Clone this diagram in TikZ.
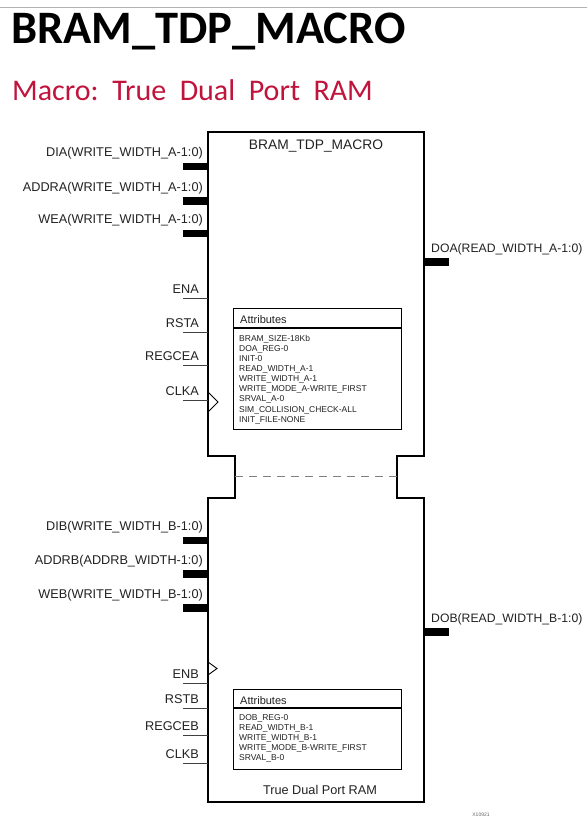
\documentclass[tikz,border=0pt]{standalone}
\usepackage{fontspec}
\setmainfont{Liberation Sans}
\newfontfamily\calibrifont{Carlito}
\usetikzlibrary{positioning,calc}
\definecolor{subtitle}{HTML}{C0143C}
\definecolor{ink}{HTML}{222222}

\begin{document}
\begin{tikzpicture}[x=1pt,y=-1pt,
  lbl/.style={font=\fontsize{12.7}{14}\selectfont,text=ink,inner sep=0},
  outlbl/.style={lbl,font=\fontsize{12.2}{14}\selectfont},
  bus/.style={fill=black,minimum width=25pt,minimum height=7.5pt,inner sep=0,anchor=east},
  pin/.style={draw=black!75,line width=0.7pt},
  clk/.style={draw=black,line width=0.9pt},
  attrbox/.style={draw,line width=1.1pt,anchor=north west,inner sep=0,minimum width=168pt},
  attr/.style={font=\fontsize{8.5}{10.1}\selectfont,align=left,inner sep=0,anchor=north west,text=ink}]
  \useasboundingbox[fill=white] (0,0) rectangle (587,827);
  \draw[black!30,line width=1pt] (0,7) -- (587,7);
  % titles
  \node[font=\calibrifont\bfseries\fontsize{46.5}{50}\selectfont,anchor=base west,inner sep=0] (title) at (11,43) {BRAM\_TDP\_MACRO};
  \node[font=\calibrifont\fontsize{30}{34}\selectfont,text=subtitle,anchor=base west,inner sep=0] (subtitle) at (12,100) {Macro:\ \ True\ \ Dual\ \ Port\ \ RAM};
  % macro outline with the split between the ports
  \draw[line width=1.1pt] (208,132) -- (424,132) -- (424,456) -- (397,456) -- (397,498) -- (424,498)
    -- (424,802) -- (208,802) -- (208,498) -- (235,498) -- (235,456) -- (208,456) -- cycle;
  \coordinate (splitL) at (235,476);
  \coordinate (splitR) at (397,476);
  \draw[black!50,dashed,dash pattern=on 8pt off 6pt,line width=0.8pt] (splitL) -- (splitR);
  \node[lbl,font=\fontsize{13.8}{15}\selectfont,anchor=base] (macro) at (316,149) {BRAM\_TDP\_MACRO};
  \node[lbl,anchor=base] (ram) at (320,794) {True Dual Port RAM};
  % port A buses
  \node[bus] (diaBus) at (208,166.5) {};
  \node[lbl,above left=3pt and 5pt of diaBus.north east] (dia) {DIA(WRITE\_WIDTH\_A-1:0)};
  \node[bus] (addraBus) at (208,201) {};
  \node[lbl,above left=3pt and 5pt of addraBus.north east] (addra) {ADDRA(WRITE\_WIDTH\_A-1:0)};
  \node[bus] (weaBus) at (208,233.5) {};
  \node[lbl,above left=3pt and 5pt of weaBus.north east] (wea) {WEA(WRITE\_WIDTH\_A-1:0)};
  \node[bus,anchor=west] (doaBus) at (424,262) {};
  \node[outlbl,above right=3pt and 7pt of doaBus.north west] (doa) {DOA(READ\_WIDTH\_A-1:0)};
  % port A control pins
  \coordinate (enaP) at (208,298);   \coordinate (enaT) at (183,298);
  \coordinate (rstaP) at (208,332);  \coordinate (rstaT) at (183,332);
  \coordinate (regceaP) at (208,365); \coordinate (regceaT) at (183,365);
  \coordinate (clkaP) at (208,400);  \coordinate (clkaT) at (183,400);
  \draw[pin] (enaT) -- (enaP);
  \draw[pin] (rstaT) -- (rstaP);
  \draw[pin] (regceaT) -- (regceaP);
  \draw[pin] (clkaT) -- (clkaP);
  \node[lbl,anchor=base east] (ena) at (199,293) {ENA};
  \node[lbl,anchor=base east] (rsta) at (199,327) {RSTA};
  \node[lbl,anchor=base east] (regcea) at (199,360) {REGCEA};
  \node[lbl,anchor=base east] (clka) at (199,395) {CLKA};
  \draw[clk] (208,392) -- (218,402) -- (208,412);
  % port A attributes
  \node[attrbox,minimum height=121pt] (attA) at (233,308) {};
  \draw[line width=1.1pt] ($(attA.north west)+(0,20)$) -- ($(attA.north east)+(0,20)$);
  \node[lbl,font=\fontsize{11}{12}\selectfont,anchor=base west] (attAhead) at (240,323) {Attributes};
  \node[attr] (attAlist) at (239,335) {BRAM\_SIZE-18Kb\\DOA\_REG-0\\INIT-0\\READ\_WIDTH\_A-1\\WRITE\_WIDTH\_A-1\\WRITE\_MODE\_A-WRITE\_FIRST\\SRVAL\_A-0\\SIM\_COLLISION\_CHECK-ALL\\INIT\_FILE-NONE};
  % port B buses
  \node[bus] (dibBus) at (208,540.5) {};
  \node[lbl,above left=3pt and 5pt of dibBus.north east] (dib) {DIB(WRITE\_WIDTH\_B-1:0)};
  \node[bus] (addrbBus) at (208,574) {};
  \node[lbl,above left=3pt and 5pt of addrbBus.north east] (addrb) {ADDRB(ADDRB\_WIDTH-1:0)};
  \node[bus] (webBus) at (208,608) {};
  \node[lbl,above left=3pt and 5pt of webBus.north east] (web) {WEB(WRITE\_WIDTH\_B-1:0)};
  \node[bus,anchor=west] (dobBus) at (424,632) {};
  \node[outlbl,above right=3pt and 7pt of dobBus.north west] (dob) {DOB(READ\_WIDTH\_B-1:0)};
  % port B control pins
  \coordinate (enbP) at (208,683);   \coordinate (enbT) at (183,683);
  \coordinate (rstbP) at (208,708);  \coordinate (rstbT) at (183,708);
  \coordinate (regcebP) at (208,735); \coordinate (regcebT) at (183,735);
  \coordinate (clkbP) at (208,763);  \coordinate (clkbT) at (183,763);
  \draw[pin] (enbT) -- (enbP);
  \draw[pin] (rstbT) -- (rstbP);
  \draw[pin] (regcebT) -- (regcebP);
  \draw[pin] (clkbT) -- (clkbP);
  \node[lbl,anchor=base east] (enb) at (199,678) {ENB};
  \node[lbl,anchor=base east] (rstb) at (199,703) {RSTB};
  \node[lbl,anchor=base east] (regceb) at (199,730) {REGCEB};
  \node[lbl,anchor=base east] (clkb) at (199,758) {CLKB};
  \draw[clk] (208,662) -- (217,668.5) -- (208,675);
  % port B attributes
  \node[attrbox,minimum height=80pt] (attB) at (233,689) {};
  \draw[line width=1.1pt] ($(attB.north west)+(0,19)$) -- ($(attB.north east)+(0,19)$);
  \node[lbl,font=\fontsize{11}{12}\selectfont,anchor=base west] (attBhead) at (240,704) {Attributes};
  \node[attr] (attBlist) at (239,714) {DOB\_REG-0\\READ\_WIDTH\_B-1\\WRITE\_WIDTH\_B-1\\WRITE\_MODE\_B-WRITE\_FIRST\\SRVAL\_B-0};
  \node[lbl,font=\fontsize{5}{6}\selectfont,text=black!60] (fig) at (481,815) {X10921};
\end{tikzpicture}
\end{document}
